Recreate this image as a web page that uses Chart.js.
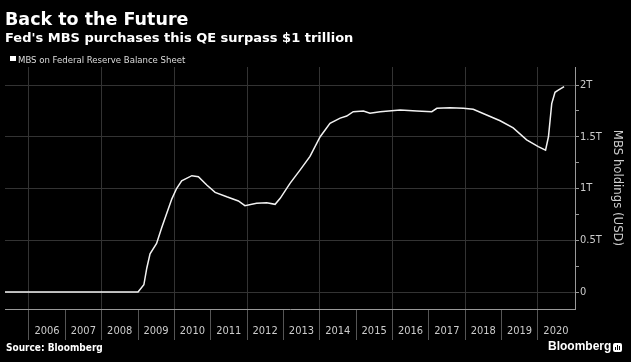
<!DOCTYPE html>
<html>
<head>
<meta charset="utf-8">
<script src="https://cdn.jsdelivr.net/npm/chart.js@4.4.1/dist/chart.umd.min.js"></script>
<style>
  html, body { margin: 0; padding: 0; background: #000; }
  #wrap { position: relative; width: 631px; height: 362px; background: #000; overflow: hidden; }
  #wrap canvas { position: absolute; left: 0; top: 0; }
  .txt { position: absolute; line-height: 1; white-space: nowrap; color: #fff;
         font-family: "DejaVu Sans Condensed", "DejaVu Sans", sans-serif; }
  #title { left: 5px; top: 10.5px; font-size: 17.5px; font-weight: bold; font-family: "DejaVu Sans", sans-serif; }
  #subtitle { left: 5px; top: 31px; font-size: 13px; font-weight: bold; font-family: "DejaVu Sans", sans-serif; }
  #legend { left: 18px; top: 54.5px; font-size: 9.5px; color: #ddd; }
  #legendBox { position: absolute; left: 10px; top: 56px; width: 5.5px; height: 5px; background: #fff; }
  #source { left: 6px; top: 343px; font-size: 10px; font-weight: bold; }
  #brand { left: 548px; top: 340px; font-size: 12px; font-weight: bold;
           font-family: "Liberation Sans", Arial, sans-serif; }
  #brandIcon { position: absolute; left: 613px; top: 343px; width: 9px; height: 9px;
               background: #fff; border-radius: 2px; }
  #brandIcon span { position: absolute; bottom: 2px; width: 1px; background: #000; }
</style>
</head>
<body>
<div id="wrap">
  <canvas id="mbsChart" width="631" height="362"></canvas>
  <div class="txt" id="title">Back to the Future</div>
  <div class="txt" id="subtitle">Fed's MBS purchases this QE surpass $1 trillion</div>
  <div id="legendBox"></div>
  <div class="txt" id="legend">MBS on Federal Reserve Balance Sheet</div>
  <div class="txt" id="source">Source: Bloomberg</div>
  <div class="txt" id="brand">Bloomberg</div>
  <div id="brandIcon"><span style="left:2px;height:3px"></span><span style="left:4px;height:5px"></span><span style="left:6px;height:4px"></span></div>
</div>
<script>
// MBS held by the Fed, trillions of USD, by decimal year
const dates = [
    2005.34, 2009.0, 2009.16, 2009.24, 2009.33, 2009.51, 2009.65, 2009.79, 2009.93,
    2010.06, 2010.2, 2010.48, 2010.66, 2010.89, 2011.12, 2011.44, 2011.76, 2011.94,
    2012.26, 2012.54, 2012.77, 2012.91, 2013.18, 2013.46, 2013.73, 2014.01, 2014.28,
    2014.56, 2014.74, 2014.92, 2015.2, 2015.38, 2015.66, 2016.21, 2016.67, 2017.08,
    2017.22, 2017.58, 2017.95, 2018.22, 2018.59, 2018.96, 2019.32, 2019.69, 2020.01,
    2020.21, 2020.29, 2020.38, 2020.47, 2020.56, 2020.72,
];
const mbsHoldings = [
    0, 0, 0.07, 0.23, 0.37, 0.47, 0.62, 0.76, 0.9,
    1.0, 1.075, 1.124, 1.114, 1.034, 0.963, 0.92, 0.88, 0.834,
    0.857, 0.863, 0.847, 0.905, 1.05, 1.18, 1.31, 1.5, 1.63,
    1.68, 1.7, 1.742, 1.749, 1.727, 1.742, 1.758, 1.749, 1.742,
    1.775, 1.78, 1.775, 1.765, 1.71, 1.655, 1.585, 1.47, 1.404,
    1.37, 1.5, 1.82, 1.93, 1.95, 1.985,
];
const yearLabels = ["2006", "2007", "2008", "2009", "2010", "2011", "2012", "2013",
    "2014", "2015", "2016", "2017", "2018", "2019", "2020"];
const yTickValues = [0, 0.5, 1, 1.5, 2];
const yTickLabels = ["0", "0.5T", "1T", "1.5T", "2T"];

const axisFont = { family: "'DejaVu Sans Condensed', 'DejaVu Sans', sans-serif", size: 11 };
const gridColor = "#333";
const none = "rgba(0,0,0,0)";

let mbsData = {
    datasets: [{
        label: "MBS on Federal Reserve Balance Sheet",
        data: dates.map((d, i) => ({ x: d, y: mbsHoldings[i] })),
        borderColor: "#f2f2f2",
        borderWidth: 1.5,
        pointRadius: 0,
        tension: 0,
        fill: false,
    }, ],
};

let mbsOptions = {
    responsive: false,
    animation: false,
    layout: { padding: { top: 67, left: 5, right: 0, bottom: 0 } },
    plugins: {
        legend: { display: false },
        tooltip: { enabled: false },
    },
    scales: {
        x: {
            type: "linear",
            position: "bottom",
            min: 2005.34,
            max: 2021.02,
            afterBuildTicks: (s) => { s.ticks = yearLabels.map((l) => ({ value: Number(l) })); },
            afterFit: (s) => { s.height = 53; },
            ticks: {
                callback: (v, i) => yearLabels[i],
                color: "#ccc",
                font: axisFont,
                labelOffset: 18,
                padding: -15,
                maxRotation: 0,
                autoSkip: false,
            },
            grid: {
                color: (ctx) => (ctx.tick && ctx.tick.value % 2 === 0 ? gridColor : none),
                tickColor: "#555",
                tickLength: 31,
            },
            border: { color: "#999" },
        },
        y: {
            type: "linear",
            position: "right",
            min: -0.164,
            max: 2.174,
            afterBuildTicks: (s) => {
                s.ticks = [];
                for (let v = 0; v <= 2; v += 0.25) s.ticks.push({ value: v });
            },
            afterFit: (s) => { s.width = 56; },
            ticks: {
                callback: (v) => {
                    let k = yTickValues.indexOf(v);
                    return k >= 0 ? yTickLabels[k] : "";
                },
                color: "#ccc",
                font: axisFont,
                padding: 1,
                autoSkip: false,
            },
            grid: {
                color: (ctx) => (ctx.tick && yTickValues.includes(ctx.tick.value) ? gridColor : none),
                tickColor: "#999",
                tickLength: 4,
            },
            border: { color: "#999" },
            title: {
                display: true,
                text: "MBS holdings (USD)",
                color: "#ccc",
                font: { family: axisFont.family, size: 13 },
                padding: { top: 6, bottom: 0 },
            },
        },
    },
};

new Chart(document.getElementById("mbsChart").getContext("2d"), {
    type: "line",
    data: mbsData,
    options: mbsOptions,
});
</script>
</body>
</html>
